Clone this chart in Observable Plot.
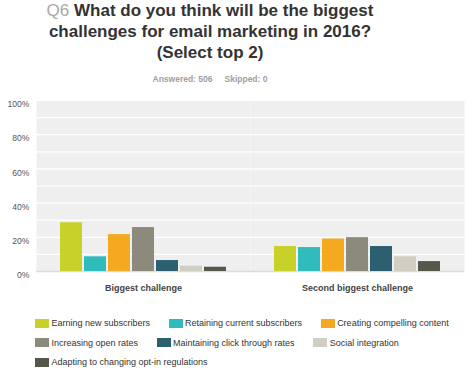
<!DOCTYPE html>
<html>
<head>
<meta charset="utf-8">
<script src="https://cdn.jsdelivr.net/npm/d3@7"></script>
<script src="https://cdn.jsdelivr.net/npm/@observablehq/plot@0.6"></script>
<style>
  html, body { margin: 0; padding: 0; background: #fff; }
  body { width: 474px; height: 373px; position: relative; overflow: hidden; font-family: "Liberation Sans", Arial, sans-serif; }
  #title { position: absolute; left: 0; top: 0; width: 420px; text-align: center; font-size: 17px; font-weight: bold; line-height: 21px; color: #333; }
  #title .q { color: #a8a8a8; font-weight: normal; }
  #sub { position: absolute; left: 0; top: 73px; width: 420px; text-align: center; font-size: 8.5px; font-weight: bold; line-height: 12px; color: #a0a0a0; }
  #sub span + span { margin-left: 12px; }
  #chart { position: absolute; left: 0; top: 92px; }
  #legend { position: absolute; left: 35px; top: 317px; width: 430px; display: flex; flex-wrap: wrap; column-gap: 18.5px; row-gap: 7.5px; font-size: 9px; line-height: 12px; color: #333; }
  #legend .item { display: flex; align-items: center; white-space: nowrap; }
  #legend .sw { width: 14px; height: 9px; margin-right: 2.5px; display: inline-block; }
</style>
</head>
<body>
<div id="title"><span class="q">Q6</span> What do you think will be the biggest<br>challenges for email marketing in 2016?<br>(Select top 2)</div>
<div id="sub"><span>Answered: 506</span><span>Skipped: 0</span></div>
<div id="chart"></div>
<div id="legend"></div>
<script>
const groups = ["Biggest challenge", "Second biggest challenge"];
const series = [
  "Earning new subscribers",
  "Retaining current subscribers",
  "Creating compelling content",
  "Increasing open rates",
  "Maintaining click through rates",
  "Social integration",
  "Adapting to changing opt-in regulations"
];
const biggest = [28.5, 8.6, 21.6, 25.7, 6.4, 3.1, 2.5];
const second = [14.6, 14.0, 19.0, 19.8, 14.6, 8.6, 5.8];
const colors = ["#c8d12a", "#30bcbd", "#f5a920", "#8c8a7c", "#2c6070", "#d0cec2", "#56574a"];
const yTicks = [0, 20, 40, 60, 80, 100];
const gridTicks = [10, 20, 30, 40, 50, 60, 70, 80, 90, 100];

const table = [];
series.forEach((s, i) => {
  table.push({group: groups[0], series: s, value: biggest[i]});
  table.push({group: groups[1], series: s, value: second[i]});
});

const chart = Plot.plot({
  width: 474,
  height: 212,
  marginLeft: 36,
  marginRight: 10,
  marginTop: 8,
  marginBottom: 33,
  style: { fontFamily: "'Liberation Sans', Arial, sans-serif", background: "transparent" },
  fx: { domain: groups, padding: 0, label: null, axis: null },
  x: { domain: series, paddingInner: 0.07, paddingOuter: 0.92, axis: null },
  y: { domain: [0, 100], label: null, axis: null },
  color: { domain: series, range: colors },
  marks: [
    Plot.frame({ fill: "#efefef", stroke: "none" }),
    Plot.gridY(gridTicks, { stroke: "#ffffff", strokeOpacity: 1, strokeWidth: 1.2 }),
    Plot.ruleY([0], { stroke: "#dcdcdc", strokeWidth: 1.5 }),
    Plot.barY(table, { fx: "group", x: "series", y: "value", fill: "series" }),
    Plot.axisY(yTicks, { tickSize: 0, tickPadding: 7, tickFormat: d => d + "%", fontSize: 8.6, fill: "#555", dy: 4, label: null }),
    Plot.axisFx({ anchor: "bottom", tickSize: 0, tickPadding: 13, fontSize: 9, fontWeight: "bold", fill: "#444", label: null })
  ]
});
document.getElementById("chart").appendChild(chart);

const legend = document.getElementById("legend");
series.forEach((s, i) => {
  const item = document.createElement("div");
  item.className = "item";
  const sw = document.createElement("span");
  sw.className = "sw";
  sw.style.background = colors[i];
  const t = document.createElement("span");
  t.textContent = s;
  item.appendChild(sw);
  item.appendChild(t);
  legend.appendChild(item);
});
</script>
</body>
</html>
